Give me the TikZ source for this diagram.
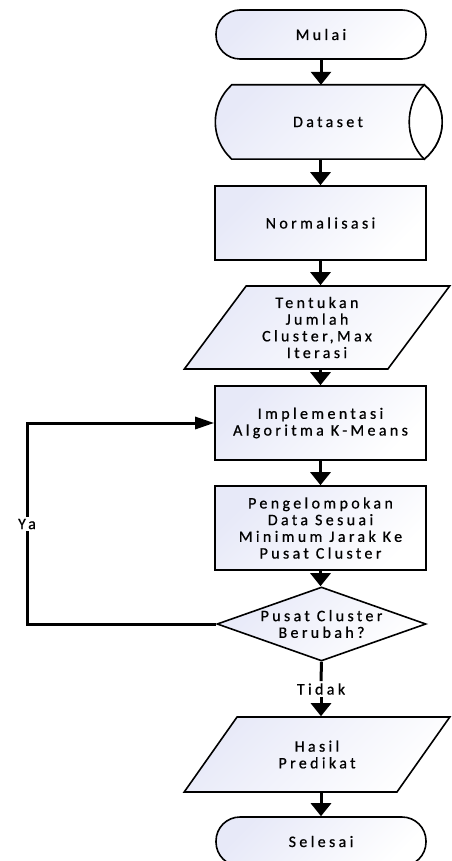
\documentclass[tikz,border=0pt]{standalone}
\usepackage{fontspec}
\setmainfont[LetterSpace=21,FakeBold=0.7]{Carlito}
\usetikzlibrary{shapes.geometric,arrows.meta,backgrounds}
\definecolor{lav}{RGB}{231,233,248}
\begin{document}
\begin{tikzpicture}[x=1pt,y=-1pt,
  txt/.style={font=\fontsize{16}{16.7}\selectfont, align=center, inner sep=2pt},
  base/.style={txt, draw=black, line width=1.6pt, left color=lav, right color=white, shading angle=45},
  term/.style={base, rectangle, rounded corners=24pt, minimum width=210pt, minimum height=49pt},
  proc/.style={base, rectangle, minimum width=211pt},
  io/.style={base, trapezium, trapezium stretches=true, minimum width=266pt},
  cond/.style={base, diamond, inner sep=0pt, minimum width=209pt, minimum height=74pt},
  flow/.style={line width=3pt},
  arr/.style={flow, -{Triangle[width=20pt,length=13pt]}},
  back/.style={flow, -{Triangle[width=12pt,length=19pt]}}]
\useasboundingbox (0,0) rectangle (451,861);
\node[term] (mulai) at (321,34.5) {Mulai};
\node[txt, minimum width=192pt, minimum height=74pt, inner sep=0pt] (data) at (328,122) {Dataset};
\begin{scope}[on background layer]
\draw[line width=1.6pt, left color=lav, right color=white, shading angle=45] (data.north west) -- (data.north east) .. controls +(24,20) and +(24,-20) .. (data.south east) -- (data.south west) .. controls +(-22,-20) and +(-22,20) .. (data.north west) -- cycle;
\filldraw[line width=1.6pt, fill=white] (data.north east) .. controls +(24,20) and +(24,-20) .. (data.south east) .. controls +(-20,-20) and +(-20,20) .. (data.north east) -- cycle;
\end{scope}
\node[proc, minimum height=74pt] (norm) at (320.5,223) {Normalisasi};
\node[io, minimum height=83pt, trapezium left angle=52.8, trapezium right angle=127.2] (jml) at (317,327.5) {Tentukan\\Jumlah\\Cluster,Max\\Iterasi};
\node[proc, minimum height=74pt] (impl) at (320.5,423) {Implementasi\\Algoritma K-Means};
\node[proc, minimum height=84pt] (klp) at (320.5,528) {Pengelompokan\\Data Sesuai\\Minimum Jarak Ke\\Pusat Cluster};
\node[cond] (cek) at (321.5,624) {};
\node[txt] (cektxt) at (cek) {Pusat Cluster\\Berubah?};
\node[txt] (ya) at (27,524) {Ya};
\node[txt] (tidak) at (321,689) {Tidak};
\node[io, minimum height=75pt, trapezium left angle=50, trapezium right angle=130] (hasil) at (317,754.5) {Hasil\\Predikat};
\node[term] (selesai) at (321,841.5) {Selesai};
% alur utama
\draw[arr] (mulai.south) -- (mulai.south |- data.north);
\draw[arr] (norm.north |- data.south) -- (norm.north);
\draw[arr] (norm.south) -- (norm.south |- jml.north);
\draw[arr] (impl.north |- jml.south) -- (impl.north);
\draw[arr] (impl.south) -- (klp.north);
\draw[arr] (klp.south) -- (klp.south |- cek.north);
\draw[flow] (cek.south) -- (tidak.north);
\draw[arr] (tidak.south) -- (tidak.south |- hasil.north);
\draw[arr] (selesai.north |- hasil.south) -- (selesai.north);
% ulang
\draw[flow] (cek.west) -| (ya.south);
\draw[back] (ya.north) |- (impl.west);
\end{tikzpicture}
\end{document}
